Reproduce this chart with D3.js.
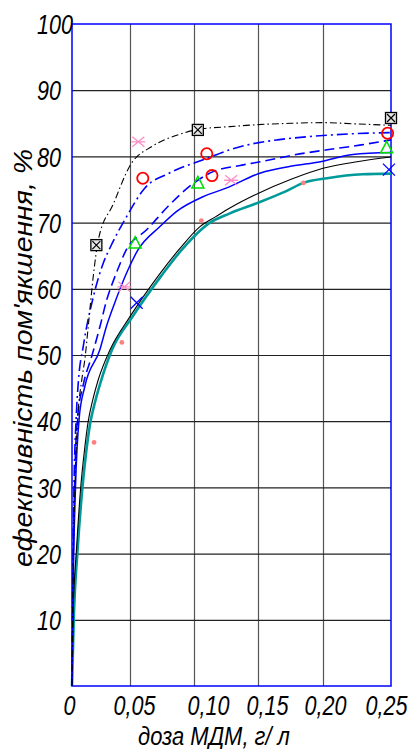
<!DOCTYPE html>
<html><head><meta charset="utf-8">
<script src="https://cdn.jsdelivr.net/npm/d3@7"></script>
<style>html,body{margin:0;padding:0;background:#fff;} svg{display:block}</style>
</head><body><svg id="c" width="411" height="749"></svg>
<script>
// ---------- data ----------
const xTicks = [0, 0.05, 0.10, 0.15, 0.20, 0.25];
const xTickLabels = ["0", "0,05", "0,10", "0,15", "0,20", "0,25"];
const yTicks = [10, 20, 30, 40, 50, 60, 70, 80, 90, 100];
const yTickLabels = ["10", "20", "30", "40", "50", "60", "70", "80", "90", "100"];
const xTitle = "доза МДМ, г/ л";
const yTitle = "ефективність пом'якшення, %";

// fitted curves [dose, efficiency]
const curveBlackDashDot = [[0,0],[0.0008,15],[0.0025,30],[0.005,40.5],[0.0084,46.2],[0.0112,49.5],[0.014,54.3],[0.0184,62],[0.0227,67.4],[0.0356,72.8],[0.05,78.6],[0.068,81.6],[0.0865,83.2],[0.104,84.1],[0.128,84.5],[0.15,84.8],[0.175,85.0],[0.20,85.1],[0.225,84.9],[0.25,84.7]];
const curveBlueDashDot = [[0,0],[0.0006,15],[0.0017,30],[0.0036,40.5],[0.0055,46],[0.0097,51.3],[0.0184,58.8],[0.027,63.9],[0.0328,66.2],[0.0471,70.9],[0.0615,75.2],[0.08,77.4],[0.11,79.7],[0.128,81.0],[0.141,81.7],[0.165,82.5],[0.19,83.0],[0.22,83.4],[0.25,83.6]];
const curveBlueDashed = [[0,0],[0.0008,15],[0.0022,30],[0.0048,40.5],[0.0097,45.5],[0.017,49.8],[0.0241,54.3],[0.0299,58.3],[0.0356,61.2],[0.041,63.6],[0.0457,65.5],[0.064,69.1],[0.08,72.5],[0.1,76.0],[0.115,77.7],[0.135,78.6],[0.152,79.2],[0.177,80.2],[0.203,81.0],[0.227,81.7],[0.25,82.5]];
const curveBlueSolid = [[0,0],[0.001,15],[0.003,30],[0.0062,40.5],[0.011,45.2],[0.024,50.8],[0.03,54.5],[0.0356,57.3],[0.0486,63.0],[0.056,65.8],[0.0734,69.4],[0.0865,71.7],[0.107,73.9],[0.125,75.2],[0.152,77.5],[0.175,78.5],[0.198,79.2],[0.222,80.3],[0.25,80.6]];
const curveBlack = [[0,0],[0.001,11],[0.004,21],[0.0075,30],[0.011,36],[0.014,40],[0.018,43.3],[0.0227,46.3],[0.0328,50.8],[0.05,55.8],[0.0734,62.3],[0.089,66.1],[0.1047,69.4],[0.117,70.9],[0.128,72.2],[0.15,74.4],[0.175,76.5],[0.20,78.2],[0.225,79.2],[0.25,79.9]];
const curveTeal = [[0,0],[0.0015,10],[0.005,21],[0.009,30],[0.012,35],[0.0155,39.5],[0.02,43],[0.0245,45.8],[0.0345,50.8],[0.052,55.8],[0.075,62.1],[0.09,65.8],[0.1125,70.0],[0.128,71.4],[0.15,73.0],[0.17,74.6],[0.185,76.0],[0.203,76.7],[0.229,77.3],[0.25,77.4]];

// measured points [dose, efficiency]
const pointsBox = [[0.021,66.6],[0.103,84.0],[0.25,85.8]];
const pointsCircle = [[0.060,76.7],[0.110,80.4],[0.114,77.1],[0.2475,83.5]];
const pointsTriangle = [[0.054,66.9],[0.103,76.0],[0.2468,81.3]];
const pointsAsterisk = [[0.0451,60.3],[0.0565,82.2],[0.129,76.4]];
const pointsCross = [[0.0552,57.9],[0.2485,78.0]];
const pointsDot = [[0.019,36.8],[0.043,51.9],[0.1057,70.3],[0.1849,76.0]];

// ---------- layout ----------
const svg = d3.select("#c");
const L = 72, R = 391, T = 24, B = 686;
const x = d3.scaleLinear().domain(xTicks).range([L, 130, 194, 258, 323, R]);
const y = d3.scaleLinear().domain([0, 100]).range([B, T]);
const FONT = "'Liberation Sans', Arial, sans-serif";
const SX = 0.8;

// grid
svg.append("g").attr("transform", `translate(0,${B})`)
  .call(d3.axisBottom(x).tickValues(xTicks.slice(1, -1)).tickSize(-(B - T)).tickFormat(""))
  .call(g => g.select(".domain").remove())
  .call(g => g.selectAll("line").attr("stroke", "#555").attr("stroke-width", 1.2));
svg.append("g").attr("transform", `translate(${L},0)`)
  .call(d3.axisLeft(y).tickValues(yTicks.slice(0, -1)).tickSize(-(R - L)).tickFormat(""))
  .call(g => g.select(".domain").remove())
  .call(g => g.selectAll("line").attr("stroke", "#222").attr("stroke-width", 1.2));

// frame
svg.append("rect").attr("x", L).attr("y", T).attr("width", R - L).attr("height", B - T)
  .attr("fill", "none").attr("stroke", "#0000ff").attr("stroke-width", 1.5);

// tick labels
const xOff = [-3, 4, 14, 9, 2, -5];
svg.append("g").attr("transform", `translate(0,${B})`)
  .call(d3.axisBottom(x).tickValues(xTicks).tickSize(0).tickFormat((d, i) => xTickLabels[i]))
  .call(g => g.select(".domain").remove())
  .call(g => g.selectAll("text")
    .attr("y", 29).attr("dy", 0)
    .attr("x", (d, i) => xOff[i] / SX)
    .attr("transform", `scale(${SX},1)`)
    .attr("text-anchor", "middle")
    .attr("font-family", FONT).attr("font-style", "italic").attr("font-size", 27).attr("fill", "#000"));
svg.append("g").attr("transform", `translate(${L},0)`)
  .call(d3.axisLeft(y).tickValues(yTicks).tickSize(0).tickFormat((d, i) => yTickLabels[i]))
  .call(g => g.select(".domain").remove())
  .call(g => g.selectAll("text")
    .attr("x", (37 - L) / SX).attr("dy", "0.36em")
    .attr("transform", `scale(${SX},1)`)
    .attr("text-anchor", "start")
    .attr("font-family", FONT).attr("font-style", "italic").attr("font-size", 27).attr("fill", "#000"));

// axis titles
svg.append("text").attr("x", 214).attr("y", 745).attr("text-anchor", "middle")
  .attr("textLength", 152).attr("lengthAdjust", "spacingAndGlyphs")
  .attr("font-family", FONT).attr("font-style", "italic").attr("font-size", 25).text(xTitle);
svg.append("text").attr("transform", "translate(32,358) rotate(-90)").attr("text-anchor", "middle")
  .attr("textLength", 418).attr("lengthAdjust", "spacingAndGlyphs")
  .attr("font-family", FONT).attr("font-style", "italic").attr("font-size", 26).text(yTitle);

// curves
const line = d3.line().x(d => x(d[0])).y(d => y(d[1])).curve(d3.curveMonotoneX);
const curves = [
  { data: curveTeal, stroke: "#009a9a", width: 2.6, dash: null },
  { data: curveBlack, stroke: "#000", width: 1.1, dash: null },
  { data: curveBlueSolid, stroke: "#0000ff", width: 1.5, dash: null },
  { data: curveBlueDashed, stroke: "#0000ff", width: 1.6, dash: "10,5" },
  { data: curveBlueDashDot, stroke: "#0000ff", width: 1.6, dash: "11,4,2,4" },
  { data: curveBlackDashDot, stroke: "#000", width: 1.1, dash: "7,3,1.5,3" }
];
svg.append("g").selectAll("path").data(curves).join("path")
  .attr("d", d => line(d.data)).attr("fill", "none")
  .attr("stroke", d => d.stroke).attr("stroke-width", d => d.width)
  .attr("stroke-dasharray", d => d.dash);

// markers
const gm = svg.append("g");
gm.selectAll(".dot").data(pointsDot).join("circle")
  .attr("cx", d => x(d[0])).attr("cy", d => y(d[1])).attr("r", 2.4).attr("fill", "#ff8080");
gm.selectAll(".cir").data(pointsCircle).join("circle")
  .attr("cx", d => x(d[0])).attr("cy", d => y(d[1])).attr("r", 5.6)
  .attr("fill", "none").attr("stroke", "#ff0000").attr("stroke-width", 1.8);
gm.selectAll(".tri").data(pointsTriangle).join("path")
  .attr("transform", d => `translate(${x(d[0])},${y(d[1])})`)
  .attr("d", "M0,-6.5L6,5L-6,5Z").attr("fill", "none").attr("stroke", "#00dd00").attr("stroke-width", 1.5);
gm.selectAll(".ast").data(pointsAsterisk).join("path")
  .attr("transform", d => `translate(${x(d[0])},${y(d[1])})`)
  .attr("d", "M-6,-5L6,5M-6,5L6,-5M-7,0L7,0").attr("fill", "none").attr("stroke", "#ff8cc6").attr("stroke-width", 1.3);
gm.selectAll(".crs").data(pointsCross).join("path")
  .attr("transform", d => `translate(${x(d[0])},${y(d[1])})`)
  .attr("d", "M-6,-6L6,6M-6,6L6,-6").attr("fill", "none").attr("stroke", "#0000ff").attr("stroke-width", 1.3);
const bx = gm.selectAll(".box").data(pointsBox).join("g")
  .attr("transform", d => `translate(${x(d[0])},${y(d[1])})`);
bx.append("rect").attr("x", -5.5).attr("y", -5.5).attr("width", 11).attr("height", 11)
  .attr("fill", "#e6e6e6").attr("stroke", "#000").attr("stroke-width", 1.3);
bx.append("path").attr("d", "M-4,-4L4,4M-4,4L4,-4").attr("stroke", "#000").attr("stroke-width", 1.2);
</script></body></html>
